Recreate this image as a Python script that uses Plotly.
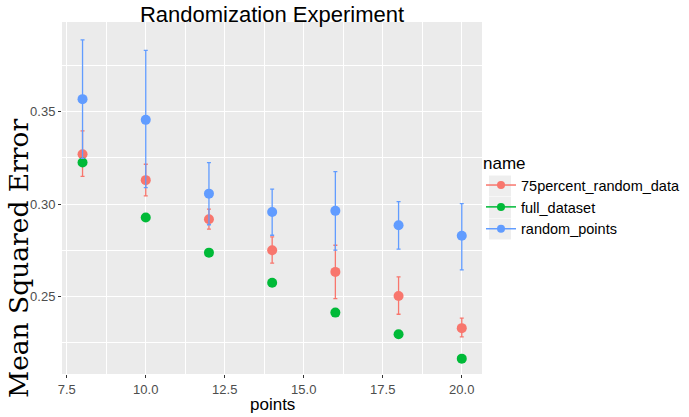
import plotly.graph_objects as go

points = [8, 10, 12, 14, 16, 18, 20]
names = ["75percent_random_data", "full_dataset", "random_points"]
colors = ["#F8766D", "#00BA38", "#619CFF"]

red_mean = [0.3270, 0.3130, 0.2919, 0.2751, 0.2634, 0.2504, 0.2330]
red_upper = [0.3396, 0.3216, 0.2973, 0.2823, 0.2778, 0.2607, 0.2384]
red_lower = [0.3150, 0.3045, 0.2865, 0.2681, 0.2490, 0.2405, 0.2283]

green_mean = [0.3225, 0.2928, 0.2738, 0.2575, 0.2414, 0.2297, 0.2165]

blue_mean = [0.3568, 0.3456, 0.3057, 0.2958, 0.2964, 0.2886, 0.2829]
blue_upper = [0.3888, 0.3832, 0.3225, 0.3081, 0.3176, 0.3014, 0.3003]
blue_lower = [0.3248, 0.3090, 0.2889, 0.2832, 0.2752, 0.2757, 0.2645]

fig = go.Figure()

def add_series(mean, upper, lower, color, name):
    err = None
    if upper is not None:
        err = dict(type="data", symmetric=False,
                   array=[u - m for u, m in zip(upper, mean)],
                   arrayminus=[m - l for m, l in zip(mean, lower)],
                   color=color, thickness=1.3, width=2)
    fig.add_trace(go.Scatter(x=points, y=mean, mode="markers", name=name,
                             marker=dict(color=color, size=10),
                             error_y=err, showlegend=False))

add_series(red_mean, red_upper, red_lower, colors[0], names[0])
add_series(green_mean, None, None, colors[1], names[1])
add_series(blue_mean, blue_upper, blue_lower, colors[2], names[2])

for n, c in zip(names, colors):
    fig.add_trace(go.Scatter(x=[None], y=[None], mode="lines+markers", name=n,
                             marker=dict(color=c, size=8), line=dict(color=c, width=1.5)))

axis_common = dict(showgrid=True, gridcolor="white", gridwidth=1.2,
                   zeroline=False, ticks="outside", ticklen=3, tickcolor="#333333",
                   tickfont=dict(family="Liberation Sans, Arial", size=13, color="#4D4D4D"),
                   showline=False)

W, H, L, R, T, B = 689, 417, 62, 207, 22, 43
pw, ph = W - L - R, H - T - B

def px(x):
    return (x - L) / pw

def py(y):
    return (H - B - y) / ph

key_shapes = []
for yc in [186, 207.5, 229]:
    key_shapes.append(dict(type="rect", xref="paper", yref="paper", layer="below",
                           x0=px(489), x1=px(511), y0=py(yc + 10.5), y1=py(yc - 10.5),
                           fillcolor="#EEEEEE", line=dict(width=0)))

fig.update_layout(
    width=W, height=H,
    margin=dict(l=L, r=R, t=T, b=B, autoexpand=False),
    paper_bgcolor="white", plot_bgcolor="#EBEBEB",
    title=dict(text="Randomization Experiment", x=272 / W, xanchor="center",
               y=0.985, yanchor="top", pad=dict(t=0),
               font=dict(family="Liberation Sans, Arial", size=22, color="black")),
    xaxis=dict(range=[7.35, 20.64], tickvals=[7.5, 10, 12.5, 15, 17.5, 20],
               ticktext=["7.5", "10.0", "12.5", "15.0", "17.5", "20.0"],
               minor=dict(tickvals=[8.75, 11.25, 13.75, 16.25, 18.75], showgrid=True,
                          gridcolor="white", gridwidth=0.6, ticks=""),
               **axis_common),
    yaxis=dict(range=[0.2082, 0.3985], tickvals=[0.25, 0.30, 0.35],
               ticktext=["0.25", "0.30", "0.35"],
               minor=dict(tickvals=[0.225, 0.275, 0.325, 0.375], showgrid=True,
                          gridcolor="white", gridwidth=0.6, ticks=""),
               **axis_common),
    legend=dict(x=px(481), y=py(147), xanchor="left", yanchor="top",
                title=dict(text="name", font=dict(family="Liberation Sans, Arial", size=17, color="black")),
                font=dict(family="Liberation Sans, Arial", size=14.5, color="black"),
                bgcolor="rgba(0,0,0,0)", itemwidth=30, tracegroupgap=0),
    shapes=key_shapes,
    annotations=[
        dict(text="Mean Squared Error", xref="paper", yref="paper",
             x=px(18), y=py(259), xanchor="center", yanchor="middle",
             textangle=-90, showarrow=False,
             font=dict(family="DejaVu Serif, Liberation Serif", size=26.5, color="black")),
        dict(text="points", xref="paper", yref="paper",
             x=0.5, y=py(404), xanchor="center", yanchor="middle",
             showarrow=False,
             font=dict(family="Liberation Sans, Arial", size=17, color="black")),
    ],
)

fig.write_html("out.html", config={"displayModeBar": False},
               post_script="document.body.style.margin='0';")
